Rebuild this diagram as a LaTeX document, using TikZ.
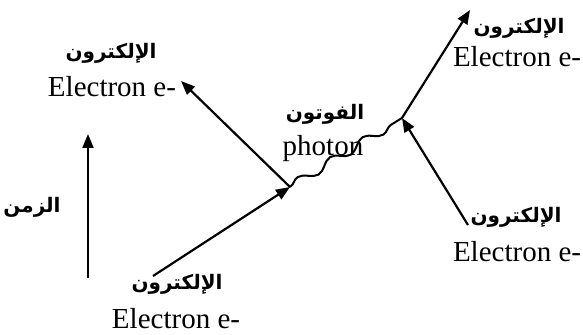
\documentclass[tikz,border=0pt]{standalone}
\usepackage{fontspec}
\setmainfont{Liberation Serif}
\newfontfamily\arabicfont[Script=Arabic]{DejaVu Sans}
\TeXXeTstate=1
\usetikzlibrary{arrows.meta,decorations.pathmorphing}
\tikzset{
  elec/.style={line width=1.1pt, -{Triangle[length=7pt,width=5.5pt]}},
  en/.style={inner sep=0pt, anchor=base, font=\fontsize{14.5}{16}\selectfont},
  ar/.style={inner sep=0pt, anchor=center, font=\arabicfont\bfseries\fontsize{10}{12}\selectfont},
  wave/.style={line width=1pt, decorate, decoration={snake, segment length=19pt, amplitude=2.2pt}}
}
\begin{document}
\begin{tikzpicture}[x=0.5pt,y=-0.5pt]
\useasboundingbox (0,0) rectangle (583,335);
% vertices and free ends
\coordinate (v1) at (290,187);
\coordinate (v2) at (402,118);
\coordinate (a) at (153,276);
\coordinate (b) at (181,81);
\coordinate (c) at (470,10);
\coordinate (d) at (468,225);
\coordinate (t0) at (88,278);
\coordinate (t1) at (88,134);
% lines
\draw[elec] (a) -- (v1);
\draw[elec] (v1) -- (b);
\draw[wave] (v1) -- (v2);
\draw[elec] (d) -- (v2);
\draw[elec] (v2) -- (c);
\draw[elec] (t0) -- (t1);
% labels
\node[ar] (arUL) at (111,53) {\beginR الإلكترون\endR};
\node[en] (enUL) at (112,97) {Electron e-};
\node[ar] (arPh) at (325,114) {\beginR الفوتون\endR};
\node[en] (enPh) at (323,156) {photon};
\node[ar] (arUR) at (519,28) {\beginR الإلكترون\endR};
\node[en] (enUR) at (517,67) {Electron e-};
\node[ar] (arLR) at (516,217) {\beginR الإلكترون\endR};
\node[en] (enLR) at (517,262) {Electron e-};
\node[ar] (arLL) at (177,284) {\beginR الإلكترون\endR};
\node[en] (enLL) at (176,329) {Electron e-};
\node[ar] (arT) at (32,207) {\beginR الزمن\endR};
\end{tikzpicture}
\end{document}
